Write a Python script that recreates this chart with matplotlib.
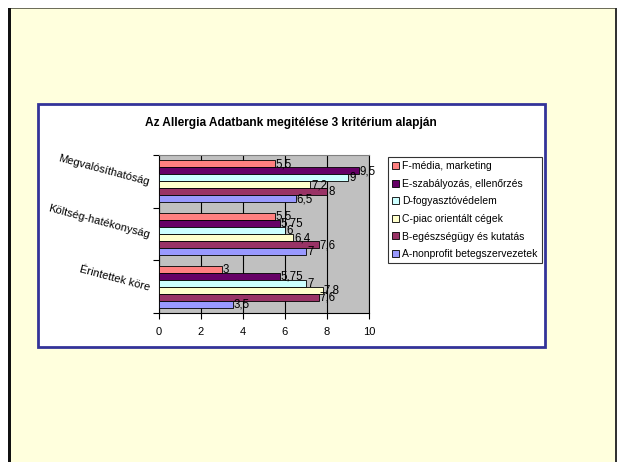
import matplotlib.pyplot as plt
from matplotlib.patches import Rectangle, Patch

plt.rc('font', family='Liberation Sans')

W, H = 618, 462

categories = ["Megvalósíthatóság", "Költség-hatékonyság", "Érintettek köre"]
series = ["F-média, marketing", "E-szabályozás, ellenőrzés", "D-fogyasztóvédelem",
          "C-piac orientált cégek", "B-egészségügy és kutatás", "A-nonprofit betegszervezetek"]
colors = ["#FF8080", "#660066", "#CCFFFF", "#FFFFCC", "#993366", "#9999FF"]

# one list per series, values in category order (top to bottom)
f_media = [5.5, 5.5, 3]
e_szabalyozas = [9.5, 5.75, 5.75]
d_fogyaszto = [9, 6, 7]
c_piac = [7.2, 6.4, 7.8]
b_egeszseg = [8, 7.6, 7.6]
a_nonprofit = [6.5, 7, 3.5]
values = [f_media, e_szabalyozas, d_fogyaszto, c_piac, b_egeszseg, a_nonprofit]

fig = plt.figure(figsize=(W / 100, H / 100), dpi=100)
fig.patch.set_facecolor("white")

def px(x0, y0, x1, y1, **kw):
    # rectangle given in pixel coords (origin top-left)
    r = Rectangle((x0 / W, 1 - y1 / H), (x1 - x0) / W, (y1 - y0) / H,
                  transform=fig.transFigure, zorder=-1, **kw)
    fig.patches.append(r)
    return r

# page frame and chart box
px(9, 8, 616, 470, facecolor="#FFFFDD", edgecolor="none")
px(9, 7.5, 616, 8.5, facecolor="#6E6E5A", edgecolor="none")
px(8, 8, 11, 470, facecolor="#111111", edgecolor="none")
px(615, 8, 617, 470, facecolor="#333333", edgecolor="none")
px(38, 104, 545, 347, facecolor="white", edgecolor="#333399", linewidth=2)

ax = fig.add_axes([159 / W, 1 - 313 / H, (369 - 159) / W, (313 - 155) / H])
ax.set_zorder(2)
ax.set_facecolor("#C0C0C0")

n = len(series)
bw = 1 / 7.5
for j, (name, vals, col) in enumerate(zip(series, values, colors)):
    ys = [i + (j - (n - 1) / 2) * bw for i in range(len(categories))]
    ax.barh(ys, vals, height=bw, color=col, edgecolor="black", linewidth=0.6, zorder=3)
    for y, v in zip(ys, vals):
        ax.text(v + 0.05, y + 0.01, f"{v:g}".replace(".", ","), fontsize=8.3,
                va="center", ha="left", zorder=4)

ax.set_xlim(0, 10)
ax.set_ylim(len(categories) - 0.5, -0.5)
ax.set_xticks(range(0, 11, 2))
ax.tick_params(axis="x", labelsize=8, length=4, width=0.8, direction="out", pad=6)
ax.set_yticks([-0.5, 0.5, 1.5, 2.5])
ax.set_yticklabels([])
ax.tick_params(axis="y", length=4, width=0.8, direction="out")
ax.xaxis.grid(True, color="black", linewidth=0.8, zorder=0)
ax.set_axisbelow(True)
for s in ["left", "bottom"]:
    ax.spines[s].set_color("black")
    ax.spines[s].set_linewidth(0.8)
ax.spines["top"].set_color("#808080")
ax.spines["right"].set_color("black")
ax.spines["right"].set_linewidth(0.8)

for i, cat in enumerate(categories):
    ax.text(-0.45, i + 0.02, cat, fontsize=8, rotation=-15, rotation_mode="anchor",
            ha="right", va="center", clip_on=False)

fig.text(291 / W, 1 - 123 / H, "Az Allergia Adatbank megitélése 3 kritérium alapján",
         fontsize=8.6, fontweight="bold", ha="center", va="center")

handles = [Patch(facecolor=c, edgecolor="black", linewidth=0.6) for c in colors]
leg = fig.legend(handles, series, loc="upper left", bbox_to_anchor=(388 / W, 1 - 157 / H),
                 fontsize=7.5, frameon=True, fancybox=False, edgecolor="black",
                 handlelength=0.67, handleheight=0.67, handletextpad=0.3,
                 labelspacing=0.73, borderpad=0.4, borderaxespad=0)
leg.get_frame().set_linewidth(0.8)

fig.savefig("out.png", dpi=100)
